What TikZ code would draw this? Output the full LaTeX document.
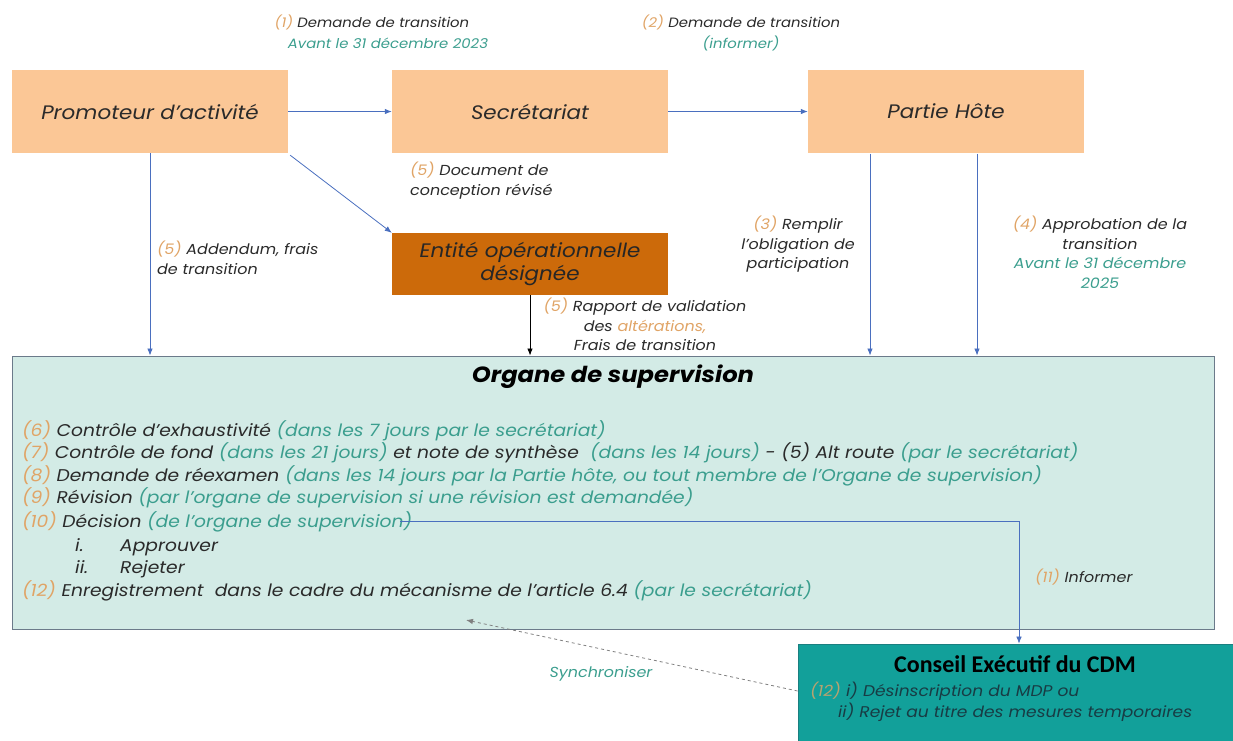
\documentclass[tikz,border=0pt]{standalone}
\usepackage{fontspec}
\setmainfont{Poppins}[FakeStretch=1.1]
\newfontfamily\calib{Carlito}
\usetikzlibrary{arrows.meta}
\definecolor{peach}{HTML}{FBC796}
\definecolor{darkor}{HTML}{CC6A0A}
\definecolor{lteal}{HTML}{D3EBE6}
\definecolor{obord}{HTML}{6B7A8A}
\definecolor{tealbox}{HTML}{12A09A}
\definecolor{tealbord}{HTML}{1A7F80}
\definecolor{numor}{HTML}{E0A466}
\definecolor{tealtxt}{HTML}{3B9E8E}
\definecolor{arrblue}{HTML}{4A6FBF}
\definecolor{txt}{HTML}{2A2A2A}
\definecolor{constxt}{HTML}{183C44}
\newcommand{\nb}[1]{\textcolor{numor}{#1}}
\newcommand{\tl}[1]{\textcolor{tealtxt}{#1}}
\tikzset{
  pbox/.style={fill=peach, minimum width=276, minimum height=83, inner sep=0pt, font=\itshape\fontsize{19.5}{22}\selectfont, text=txt},
  lbl/.style={font=\itshape\fontsize{14.5}{19.5}\selectfont, text=txt, align=center, inner sep=0pt},
  lbll/.style={lbl, align=left},
  toplbl/.style={lbl, font=\itshape\fontsize{13.5}{19.5}\selectfont},
  item/.style={anchor=base west, inner sep=0pt, font=\itshape\fontsize{17}{20}\selectfont, text=txt},
  arr/.style={draw=arrblue, line width=0.8pt, -{Latex[length=7pt,width=5.5pt]}},
}
\begin{document}
\begin{tikzpicture}[x=1pt,y=-1pt]
\useasboundingbox (0,0) rectangle (1233,740);
% boxes
\node[pbox] (prom) at (150,111.5) {Promoteur d’activité};
\node[pbox] (sec) at (530,111.5) {Secrétariat};
\node[pbox] (ph) at (946,111.5) {Partie Hôte};
\node[pbox, fill=darkor, minimum height=62, align=center, font=\itshape\fontsize{19.5}{23}\selectfont, text=black!85] (eod) at (530,264) {Entité opérationnelle\\désignée};
\node[draw=obord, line width=0.9pt, fill=lteal, minimum width=1202, minimum height=273, inner sep=0pt] (org) at (613,492.5) {};
\node[draw=tealbord, line width=0.8pt, fill=tealbox, minimum width=442, minimum height=100, inner sep=0pt] (cons) at (1019,694) {};
% top labels
\node[toplbl] (l1a) at (372,22) {\nb{(1)} Demande de transition};
\node[toplbl, text=tealtxt] (l1b) at (388,43) {Avant le 31 décembre 2023};
\node[toplbl] (l2a) at (741,22) {\nb{(2)} Demande de transition};
\node[toplbl, text=tealtxt] (l2b) at (741,43) {(informer)};
\node[lbll, anchor=north west] (l5a) at (410,162) {\nb{(5)} Document de\\conception révisé};
\node[lbll, anchor=north west] (l5b) at (157,241) {\nb{(5)} Addendum, frais\\de transition};
\node[lbl, anchor=north] (l5c) at (645,298) {\nb{(5)} Rapport de validation\\des \nb{altérations,}\\Frais de transition};
\node[lbl, anchor=north] (l3) at (798,216) {\nb{(3)} Remplir\\l'obligation de\\participation};
\node[lbl, anchor=north] (l4) at (1100,216) {\nb{(4)} Approbation de la\\transition\\\textcolor{tealtxt}{Avant le 31 décembre}\\\textcolor{tealtxt}{2025}};
% connectors
\draw[arr] (prom) -- (sec);
\draw[arr] (sec) -- (ph);
\draw[arr] (prom.south) -- (prom.south |- org.north);
\draw[arr] (prom.south east) ++(2,2) coordinate (pd) (pd) -- (eod.north west);
\draw[draw=black, line width=0.8pt, -{Latex[length=7pt,width=5.5pt]}] (eod.south) -- (eod.south |- org.north);
\coordinate (ph1) at (870,153.5);
\coordinate (ph2) at (977,153.5);
\draw[arr] (ph1) -- (ph1 |- org.north);
\draw[arr] (ph2) -- (ph2 |- org.north);
% organe content
\node[font=\bfseries\itshape\fontsize{22}{26}\selectfont, text=black] (otitle) at (613,377) {Organe de supervision};
\node[item] (i6) at (22,436) {\nb{(6)} Contrôle d'exhaustivité \tl{(dans les 7 jours par le secrétariat)}};
\node[item] (i7) at (22,458.5) {\nb{(7)} Contrôle de fond \tl{(dans les 21 jours)} et note de synthèse \ \tl{(dans les 14 jours)} - (5) Alt route \tl{(par le secrétariat)}};
\node[item] (i8) at (22,481) {\nb{(8)} Demande de réexamen \tl{(dans les 14 jours par la Partie hôte, ou tout membre de l'Organe de supervision)}};
\node[item] (i9) at (22,503.5) {\nb{(9)} Révision \tl{(par l’organe de supervision si une révision est demandée)}};
\node[item] (i10) at (22,527) {\nb{(10)} Décision \tl{(de l’organe de supervision)}};
\node[item] (i10a) at (75,551) {i.};
\node[item] (i10a2) at (120,551) {Approuver};
\node[item] (i10b) at (75,573.5) {ii.};
\node[item] (i10b2) at (120,573.5) {Rejeter};
\node[item] (i12) at (22,596) {\nb{(12)} Enregistrement \ dans le cadre du mécanisme de l'article 6.4 \tl{(par le secrétariat)}};
% decision to conseil
\coordinate (dend) at ([xshift=-12pt]i10.east |- 0,521);
\draw[arr, line width=0.7pt] (dend) -| (cons.north);
\node[lbll, anchor=west] (l11) at (1035,577) {\nb{(11)} Informer};
% conseil content
\node[font=\calib\bfseries\fontsize{24}{26}\selectfont, text=black] (ctitle) at (1015,664) {Conseil Exécutif du CDM};
\node[lbll, anchor=base west, text=constxt, font=\itshape\fontsize{15.5}{19}\selectfont] (c1) at (810,696) {\textcolor{numor!80!tealbox}{(12)} i) Désinscription du MDP ou};
\node[lbll, anchor=base west, text=constxt, font=\itshape\fontsize{15.5}{19}\selectfont] (c2) at (838,717) {ii) Rejet au titre des mesures temporaires};
% synchronise
\coordinate (sync) at (466,620);
\draw[draw=gray, dashed, line width=0.8pt, -{Latex[length=7pt,width=5.5pt]}] (cons.west) ++(0,-3) coordinate (cw) (cw) -- (sync);
\node[lbl, text=tealtxt] (lsync) at (601,674) {Synchroniser};
\end{tikzpicture}
\end{document}
